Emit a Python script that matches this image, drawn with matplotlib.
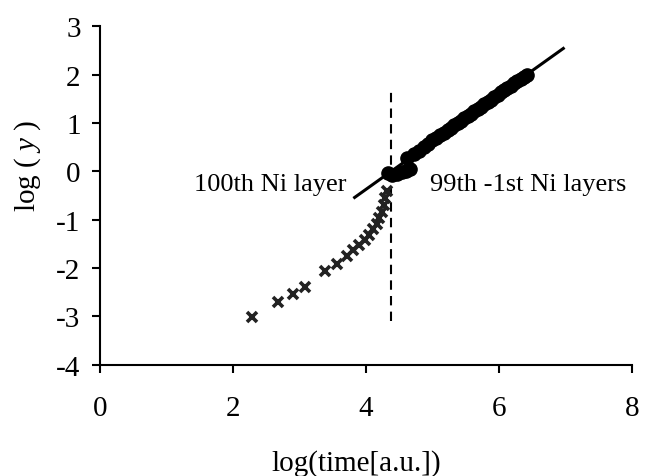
#!/usr/bin/env python3

import numpy as np
import matplotlib
matplotlib.use('Agg')
import matplotlib.pyplot as plt

# 100th layer points (crosses)
cross_x = [2.28, 2.67, 2.90, 3.08, 3.38, 3.56, 3.71, 3.80, 3.90, 3.98, 4.05,
           4.11, 4.16, 4.20, 4.24, 4.27, 4.29, 4.31]
cross_y = [-3.01, -2.71, -2.54, -2.40, -2.05, -1.92, -1.76, -1.63, -1.52, -1.42, -1.31,
           -1.20, -1.09, -0.97, -0.84, -0.70, -0.55, -0.40]

# 99th - 1st layers (dense filled dots)
dot_x = [4.33, 4.40, 4.47, 4.54, 4.60, 4.66, 4.62, 4.72, 4.80, 4.87, 4.94,
         5.00, 5.06, 5.12, 5.18, 5.23, 5.28, 5.33, 5.38, 5.43, 5.48, 5.53,
         5.58, 5.63, 5.68, 5.73, 5.78, 5.83, 5.88, 5.93, 5.98, 6.03, 6.08,
         6.13, 6.18, 6.23, 6.28, 6.33, 6.38, 6.42]
dot_y = [-0.04, -0.07, -0.05, -0.02, 0.01, 0.04, 0.27, 0.36, 0.43, 0.50, 0.57,
         0.64, 0.69, 0.76, 0.80, 0.86, 0.90, 0.95, 1.00, 1.05, 1.10, 1.15,
         1.19, 1.24, 1.29, 1.34, 1.39, 1.44, 1.48, 1.53, 1.58, 1.63, 1.68,
         1.73, 1.77, 1.82, 1.87, 1.91, 1.96, 2.00]

# fitted straight line end points
fit_x = [3.83, 6.97]
fit_y = [-0.54, 2.54]

# boundary between the layers
sep_x = [4.38, 4.38]
sep_y = [-3.09, 1.64]

x_ticks = [0, 2, 4, 6, 8]
y_ticks = [-4, -3, -2, -1, 0, 1, 2, 3]

plt.rcParams['font.family'] = ['Liberation Serif', 'DejaVu Serif']
plt.rcParams['mathtext.fontset'] = 'custom'
plt.rcParams['mathtext.it'] = 'Liberation Serif:italic'
plt.rcParams['mathtext.rm'] = 'Liberation Serif'
plt.rcParams['axes.unicode_minus'] = False

fig = plt.figure(figsize=(6.54, 4.77), dpi=100)
ax = fig.add_axes([0.153, 0.233, 0.813, 0.71])

ax.plot(fit_x, fit_y, color='black', linewidth=2.2, zorder=3)
ax.plot(dot_x, dot_y, 'o', color='black', markersize=9.5, zorder=2)
ax.plot(cross_x, cross_y, 'x', color='#222222', markersize=7, markeredgewidth=2.6, zorder=2)
ax.plot(sep_x, sep_y, color='black', linewidth=1.5, dashes=(4.5, 3), zorder=1)

ax.text(2.56, -0.27, '100th Ni layer', fontsize=19, ha='center', va='center')
ax.text(6.44, -0.27, '99th -1st Ni layers', fontsize=19, ha='center', va='center')

ax.set_xlim(0, 8)
ax.set_ylim(-4, 3)
ax.set_xticks(x_ticks)
ax.set_yticks(y_ticks)
ax.spines['top'].set_visible(False)
ax.spines['right'].set_visible(False)
for s in ['left', 'bottom']:
    ax.spines[s].set_linewidth(1.5)
ax.tick_params(direction='out', length=6, width=1.5, labelsize=21, pad=8)
ax.tick_params(axis='x', pad=16)

ax.set_xlabel('log(time[a.u.])', fontsize=21)
ax.set_ylabel('log ( $y$ )', fontsize=21)
ax.xaxis.set_label_coords(0.481, -0.25)
ax.yaxis.set_label_coords(-0.108, 0.59)

fig.savefig('out.png', dpi=100, facecolor='white')
